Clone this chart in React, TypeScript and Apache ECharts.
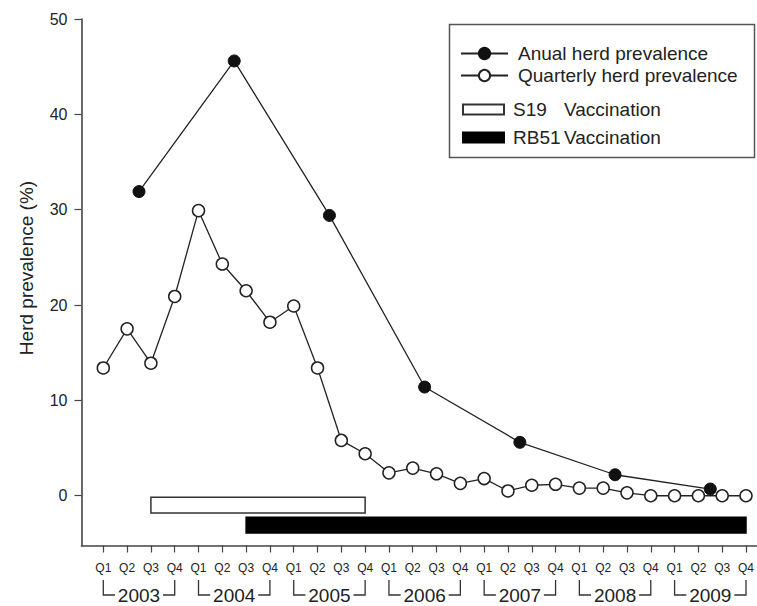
import React, { useEffect, useRef } from "react";
import * as echarts from "echarts";

// ---- data ----
const years = [2003, 2004, 2005, 2006, 2007, 2008, 2009];
const quarterNames = ["Q1", "Q2", "Q3", "Q4"];
// Quarterly herd prevalence (%), Q1 2003 ... Q4 2009
const quarterlyPrevalence = [
  13.4, 17.5, 13.9, 20.9,
  29.9, 24.3, 21.5, 18.2,
  19.9, 13.4, 5.8, 4.4,
  2.4, 2.9, 2.3, 1.3,
  1.8, 0.5, 1.1, 1.2,
  0.8, 0.8, 0.3, 0,
  0, 0, 0, 0,
];
// Annual herd prevalence (%), plotted at mid-year
const annualPrevalence = [31.9, 45.6, 29.4, 11.4, 5.6, 2.2, 0.7];
const yTickValues = [0, 10, 20, 30, 40, 50];
// Vaccination periods: [year, quarter] start and end
const s19Period = [[2003, 3], [2005, 4]];
const rb51Period = [[2004, 3], [2009, 4]];

const FONT = "'Liberation Sans', Arial, Helvetica, sans-serif";
const X_MIN = -0.9156;
const X_MAX = 27.455;
const Y_MIN = -5.22;
const Y_MAX = 50;
const AXIS_COLOR = "#444";

const qIndex = (y: number, q: number) => (y - years[0]) * 4 + (q - 1);

export default function App() {
  const ref = useRef<HTMLDivElement>(null);
  useEffect(() => {
    if (!ref.current) return;
    const chart = echarts.init(ref.current, undefined, { renderer: "svg" });

    const nQ = years.length * 4;
    const quarterTicks = Array.from({ length: nQ }, (_, i) => i);
    const yearCenters = years.map((_, k) => k * 4 + 1.5);
    const yearBrackets = years.map((_, k) => [k * 4, k * 4 + 3]);

    const barSeries = (name: string, period: number[][], top: number, bottom: number, fill: string) => ({
      type: "custom",
      name,
      xAxisIndex: 0,
      yAxisIndex: 0,
      silent: true,
      itemStyle: { color: fill, borderColor: fill === "#fff" ? "#333" : fill, borderWidth: 1.5 },
      data: [[qIndex(period[0][0], period[0][1]), qIndex(period[1][0], period[1][1])]],
      renderItem: (params: any, api: any) => {
        const p0 = api.coord([api.value(0), top]);
        const p1 = api.coord([api.value(1), bottom]);
        return {
          type: "rect",
          shape: { x: p0[0], y: p0[1], width: p1[0] - p0[0], height: p1[1] - p0[1] },
          style: { fill, stroke: fill === "#fff" ? "#333" : fill, lineWidth: 1.5 },
        };
      },
      z: 1,
    });

    const legendText = { fontSize: 19, color: "#222", fontFamily: FONT };
    const lineLegend = (name: string, top: number) => ({
      data: [name],
      orient: "vertical",
      left: 460,
      top,
      padding: 0,
      itemWidth: 47,
      itemHeight: 14,
      selectedMode: false,
      textStyle: { ...legendText, padding: [0, 0, 0, 5] },
    });
    const barLegend = (name: string, top: number) => ({
      data: [name],
      orient: "vertical",
      left: 462,
      top,
      padding: 0,
      itemWidth: 41,
      itemHeight: 10,
      icon: "rect",
      selectedMode: false,
      formatter: (n: string) => {
        const [a, b] = n.split(" ");
        return `{a|${a}}${b}`;
      },
      textStyle: {
        ...legendText,
        padding: [0, 0, 0, 4],
        rich: { a: { ...legendText, width: 51 } },
      },
    });

    const option: any = {
      animation: false,
      grid: { left: 81.5, right: 0, top: 19, bottom: 60.5, containLabel: false },
      xAxis: [
        {
          type: "value",
          min: X_MIN,
          max: X_MAX,
          axisLine: { show: true, onZero: false, lineStyle: { color: AXIS_COLOR, width: 1.6 } },
          axisTick: {
            show: true,
            customValues: quarterTicks,
            length: 7,
            lineStyle: { color: AXIS_COLOR, width: 1.2 },
          },
          axisLabel: {
            customValues: quarterTicks,
            formatter: (v: number) => quarterNames[Math.round(v) % 4],
            fontSize: 12,
            color: "#222",
            fontFamily: FONT,
            margin: 16,
          },
          splitLine: { show: false },
        },
        {
          type: "value",
          min: X_MIN,
          max: X_MAX,
          position: "bottom",
          axisLine: { show: false, onZero: false },
          axisTick: { show: false },
          splitLine: { show: false },
          axisLabel: {
            customValues: yearCenters,
            formatter: (v: number) => String(years[Math.round((v - 1.5) / 4)]),
            fontSize: 19,
            color: "#222",
            fontFamily: FONT,
            margin: 40,
          },
        },
      ],
      yAxis: {
        type: "value",
        min: Y_MIN,
        max: Y_MAX,
        axisLine: { show: true, onZero: false, lineStyle: { color: AXIS_COLOR, width: 1.6 } },
        axisTick: {
          show: true,
          customValues: yTickValues,
          length: 7,
          lineStyle: { color: AXIS_COLOR, width: 1.2 },
        },
        axisLabel: {
          customValues: yTickValues,
          fontSize: 16,
          color: "#222",
          fontFamily: FONT,
          margin: 14,
        },
        splitLine: { show: false },
      },
      legend: [
        lineLegend("Anual herd prevalence", 44),
        lineLegend("Quarterly herd prevalence", 66),
        barLegend("S19 Vaccination", 100),
        barLegend("RB51 Vaccination", 128),
      ],
      graphic: [
        {
          type: "rect",
          shape: { x: 449.5, y: 24.5, width: 305, height: 133 },
          style: { fill: "none", stroke: "#555", lineWidth: 1.5 },
          silent: true,
        },
        {
          type: "text",
          x: 26,
          y: 268,
          rotation: Math.PI / 2,
          style: {
            text: "Herd prevalence (%)",
            fontSize: 19,
            fontFamily: FONT,
            fill: "#222",
            align: "center",
            verticalAlign: "middle",
          },
          silent: true,
        },
      ],
      series: [
        barSeries("S19 Vaccination", s19Period, -0.15, -1.8, "#fff"),
        barSeries("RB51 Vaccination", rb51Period, -2.25, -3.9, "#000"),
        {
          type: "line",
          name: "Quarterly herd prevalence",
          data: quarterlyPrevalence.map((v, i) => [i, v]),
          symbol: "circle",
          symbolSize: 12,
          showAllSymbol: true,
          lineStyle: { color: "#222", width: 1.3 },
          itemStyle: { color: "#fff", borderColor: "#222", borderWidth: 1.5 },
          z: 3,
        },
        {
          type: "line",
          name: "Anual herd prevalence",
          data: annualPrevalence.map((v, k) => [yearCenters[k], v]),
          symbol: "circle",
          symbolSize: 12,
          lineStyle: { color: "#222", width: 1.3 },
          itemStyle: { color: "#111", borderColor: "#111", borderWidth: 1 },
          z: 4,
        },
        {
          type: "custom",
          name: "year brackets",
          xAxisIndex: 0,
          yAxisIndex: 0,
          silent: true,
          clip: false,
          data: yearBrackets,
          renderItem: (params: any, api: any) => {
            const a = api.coord([api.value(0), Y_MIN]);
            const b = api.coord([api.value(1), Y_MIN]);
            const x0 = a[0];
            const x1 = b[0];
            const mid = (x0 + x1) / 2;
            const top = a[1] + 34.5;
            const bot = a[1] + 49.5;
            const st = { stroke: "#333", lineWidth: 1.3, fill: null };
            return {
              type: "group",
              children: [
                { type: "polyline", shape: { points: [[x0, top], [x0, bot], [mid - 24, bot]] }, style: st },
                { type: "polyline", shape: { points: [[mid + 24, bot], [x1, bot], [x1, top]] }, style: st },
              ],
            };
          },
        },
      ],
    };

    chart.setOption(option);
    return () => chart.dispose();
  }, []);

  return (
    <div
      ref={ref}
      style={{ position: "fixed", left: 0, top: 0, width: 757, height: 606, background: "#fff" }}
    />
  );
}
